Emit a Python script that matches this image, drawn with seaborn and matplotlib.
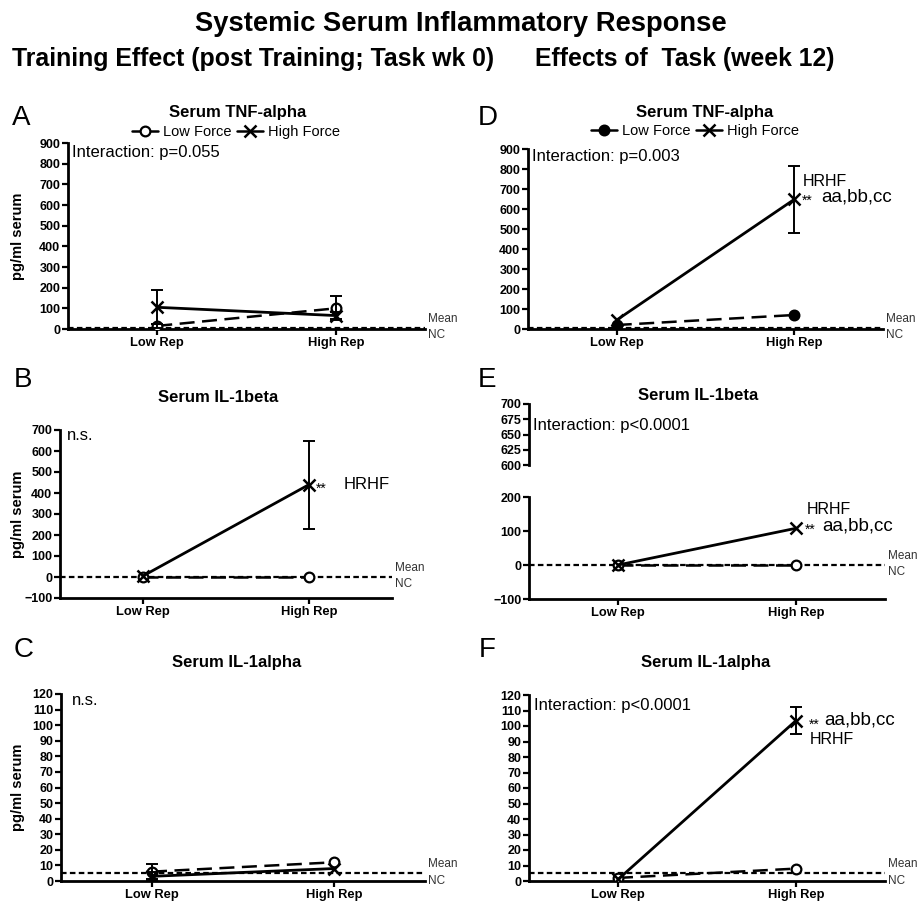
import numpy as np
import pandas as pd
import matplotlib
matplotlib.use("Agg")
import matplotlib.pyplot as plt
import matplotlib.transforms as mtrans
from matplotlib.lines import Line2D
import seaborn as sns

sns.set_theme(style="ticks")
plt.rcParams["font.family"] = ["Liberation Sans", "DejaVu Sans"]
plt.rcParams["text.color"] = "black"
plt.rcParams["axes.labelcolor"] = "black"
plt.rcParams["xtick.color"] = "black"
plt.rcParams["ytick.color"] = "black"
plt.rcParams["axes.edgecolor"] = "black"

# ---------------- data ----------------
reps = ["Low Rep", "High Rep"]
forces = ["Low Force", "High Force"]

# A: TNF-alpha, week 0
tnf0_low = [15, 100]
tnf0_low_err = [10, 58]
tnf0_high = [105, 65]
tnf0_high_err = [83, 15]
tnf0_nc = 5

# B: IL-1beta, week 0
il1b0_low = [0, 0]
il1b0_low_err = [0, 0]
il1b0_high = [5, 440]
il1b0_high_err = [0, 210]
il1b0_nc = 0

# C: IL-1alpha, week 0
il1a0_low = [6, 12]
il1a0_low_err = [5, 0]
il1a0_high = [3, 8]
il1a0_high_err = [3, 0]
il1a0_nc = 5

# D: TNF-alpha, week 12
tnf12_low = [20, 70]
tnf12_low_err = [0, 0]
tnf12_high = [45, 648]
tnf12_high_err = [0, 167]
tnf12_nc = 5

# E: IL-1beta, week 12
il1b12_low = [0, 0]
il1b12_low_err = [0, 0]
il1b12_high = [0, 108]
il1b12_high_err = [0, 0]
il1b12_nc = 0

# F: IL-1alpha, week 12
il1a12_low = [2, 8]
il1a12_low_err = [0, 0]
il1a12_high = [1, 103.5]
il1a12_high_err = [0, 8.5]
il1a12_nc = 5

W, H = 921, 902
fig = plt.figure(figsize=(W / 100, H / 100), dpi=100)


def rect(x0, y0, x1, y1):
    return [x0 / W, 1 - y1 / H, (x1 - x0) / W, (y1 - y0) / H]


def ftext(x, y, s, **kw):
    fig.text(x / W, 1 - y / H, s, **kw)


def style_axis(ax, ylim, yticks, bottom=True):
    ax.set_xlim(-0.5, 1.5)
    ax.set_ylim(*ylim)
    ax.set_yticks(yticks)
    for side in ["top", "right"]:
        ax.spines[side].set_visible(False)
    ax.spines["left"].set_linewidth(2.0)
    ax.spines["bottom"].set_linewidth(2.0)
    ax.tick_params(axis="both", direction="out", length=4, width=1.6, color="black",
                   labelsize=9, pad=1.5, labelcolor="black")
    for lab in ax.get_yticklabels():
        lab.set_fontweight("bold")
    if bottom:
        ax.set_xticks(range(len(reps)))
        ax.set_xticklabels(reps, fontweight="bold", fontsize=9.3)
    else:
        ax.spines["bottom"].set_visible(False)
        ax.set_xticks([])
    ax.set_xlabel("")
    ax.set_ylabel("")
    ax.set_facecolor("white")


def draw(ax, low, low_err, high, high_err, nc, filled=False, nc_labels=True):
    df = pd.DataFrame({
        "rep": list(range(len(reps))) * 2,
        "value": low + high,
        "err": low_err + high_err,
        "force": [forces[0]] * len(reps) + [forces[1]] * len(reps),
    })
    ax.axhline(nc, color="black", lw=1.6, ls=(0, (2.5, 1.5)), zorder=2)
    lo = df[df.force == forces[0]]
    hi = df[df.force == forces[1]]
    sns.lineplot(data=lo, x="rep", y="value", ax=ax, color="black", lw=1.8,
                 linestyle=(0, (6, 3)), marker="o", markersize=7,
                 markerfacecolor="black" if filled else "white", mec="black",
                 mew=1.6, errorbar=None, zorder=3)
    sns.lineplot(data=hi, x="rep", y="value", ax=ax, color="black", lw=2.0,
                 marker="x", markersize=9, mec="black", mew=1.8,
                 errorbar=None, zorder=4)
    for sub in (lo, hi):
        s = sub[sub.err > 0]
        if len(s):
            ax.errorbar(s.rep, s.value, yerr=s.err, fmt="none", ecolor="black",
                        elinewidth=1.4, capsize=4.5, capthick=1.4, zorder=3)
    if nc_labels:
        tr = mtrans.blended_transform_factory(ax.transAxes, ax.transData)
        off = mtrans.offset_copy(tr, fig=fig, x=2, y=2, units="points")
        off2 = mtrans.offset_copy(tr, fig=fig, x=2, y=-1, units="points")
        ax.text(1.0, nc, "Mean", transform=off, fontsize=8.5, color="#333333",
                va="bottom", ha="left")
        ax.text(1.0, nc, "NC", transform=off2, fontsize=8.5, color="#333333",
                va="top", ha="left")


# ---------------- headers ----------------
ftext(461, 24, "Systemic Serum Inflammatory Response", fontsize=19.7,
      fontweight="bold", ha="center", va="center")
ftext(12, 59, "Training Effect (post Training; Task wk 0)", fontsize=17.9,
      fontweight="bold", ha="left", va="center")
ftext(535, 59, "Effects of  Task (week 12)", fontsize=17.8,
      fontweight="bold", ha="left", va="center")

# ---------------- panel A ----------------
axA = fig.add_axes(rect(68, 143, 425, 329))
draw(axA, tnf0_low, tnf0_low_err, tnf0_high, tnf0_high_err, tnf0_nc)
style_axis(axA, (0, 900), range(0, 901, 100))
axA.text(-0.48, 852, "Interaction: p=0.055", fontsize=12, va="center", ha="left")

# ---------------- panel D ----------------
axD = fig.add_axes(rect(528, 149, 883, 329))
draw(axD, tnf12_low, tnf12_low_err, tnf12_high, tnf12_high_err, tnf12_nc, filled=True)
style_axis(axD, (0, 900), range(0, 901, 100))
axD.text(-0.48, 860, "Interaction: p=0.003", fontsize=12, va="center", ha="left")
axD.text(1.05, 735, "HRHF", fontsize=11.5, va="center", ha="left")
axD.text(1.04, 640, "**", fontsize=10, va="center", ha="left")
axD.text(1.15, 660, "aa,bb,cc", fontsize=13.5, va="center", ha="left")

# ---------------- panel B ----------------
axB = fig.add_axes(rect(60, 430, 392, 598))
draw(axB, il1b0_low, il1b0_low_err, il1b0_high, il1b0_high_err, il1b0_nc)
style_axis(axB, (-100, 700), range(-100, 701, 100))
axB.text(-0.46, 672, "n.s.", fontsize=12, va="center", ha="left")
axB.text(1.04, 420, "**", fontsize=10, va="center", ha="left")
axB.text(1.21, 440, "HRHF", fontsize=12, va="center", ha="left")

# ---------------- panel E (broken axis) ----------------
axE_top = fig.add_axes(rect(529, 404, 885, 465))
style_axis(axE_top, (600, 700), range(600, 701, 25), bottom=False)
axE_top.text(-0.48, 665, "Interaction: p<0.0001", fontsize=12, va="center", ha="left")
axE = fig.add_axes(rect(529, 497, 885, 599))
draw(axE, il1b12_low, il1b12_low_err, il1b12_high, il1b12_high_err, il1b12_nc)
style_axis(axE, (-100, 200), range(-100, 201, 100))
axE.text(1.06, 162, "HRHF", fontsize=11.5, va="center", ha="left")
axE.text(1.05, 105, "**", fontsize=10, va="center", ha="left")
axE.text(1.15, 115, "aa,bb,cc", fontsize=13.5, va="center", ha="left")

# ---------------- panel C ----------------
axC = fig.add_axes(rect(61, 694, 425, 881))
draw(axC, il1a0_low, il1a0_low_err, il1a0_high, il1a0_high_err, il1a0_nc)
style_axis(axC, (0, 120), range(0, 121, 10))
axC.text(-0.44, 116, "n.s.", fontsize=12, va="center", ha="left")

# ---------------- panel F ----------------
axF = fig.add_axes(rect(529, 695, 885, 881))
draw(axF, il1a12_low, il1a12_low_err, il1a12_high, il1a12_high_err, il1a12_nc)
style_axis(axF, (0, 120), range(0, 121, 10))
axF.text(-0.47, 113.5, "Interaction: p<0.0001", fontsize=12, va="center", ha="left")
axF.text(1.07, 101, "**", fontsize=10, va="center", ha="left")
axF.text(1.16, 104, "aa,bb,cc", fontsize=13.5, va="center", ha="left")
axF.text(1.08, 91, "HRHF", fontsize=11.5, va="center", ha="left")

# ---------------- panel titles, letters, legends, y labels ----------------
titles = [(238, 113, "Serum TNF-alpha"), (705, 113, "Serum TNF-alpha"),
          (218, 397, "Serum IL-1beta"), (698, 395, "Serum IL-1beta"),
          (237, 662, "Serum IL-1alpha"), (706, 662, "Serum IL-1alpha")]
for x, y, s in titles:
    ftext(x, y, s, fontsize=12, fontweight="bold", ha="center", va="center")

letters = [(12, 125, "A"), (478, 125, "D"), (14, 387, "B"), (478, 387, "E"),
           (14, 657, "C"), (479, 657, "F")]
for x, y, s in letters:
    ftext(x, y, s, fontsize=20, ha="left", va="baseline")

for ax, left_px, width_px in ((axA, 68, 357), (axB, 60, 332), (axC, 61, 364)):
    ax.set_ylabel("pg/ml serum", fontsize=10.5, fontweight="bold")
    ax.yaxis.set_label_coords((25 - left_px) / width_px, 0.5)


def legend_handles(filled):
    return [
        Line2D([], [], color="black", lw=1.8, marker="o", markersize=7,
               markerfacecolor="black" if filled else "white", mec="black", mew=1.6),
        Line2D([], [], color="black", lw=1.8, marker="x", markersize=8, mew=1.8),
    ]


for ax, filled, y0 in ((axA, False, 0.975), (axD, True, 1.01)):
    ax.legend(handles=legend_handles(filled), labels=forces, ncol=2,
              loc="lower center", bbox_to_anchor=(0.47, y0), frameon=False,
              fontsize=10.5, handlelength=1.8, handletextpad=0.3,
              columnspacing=0.4, borderaxespad=0.2)

fig.savefig("out.png", dpi=100, facecolor="white")
